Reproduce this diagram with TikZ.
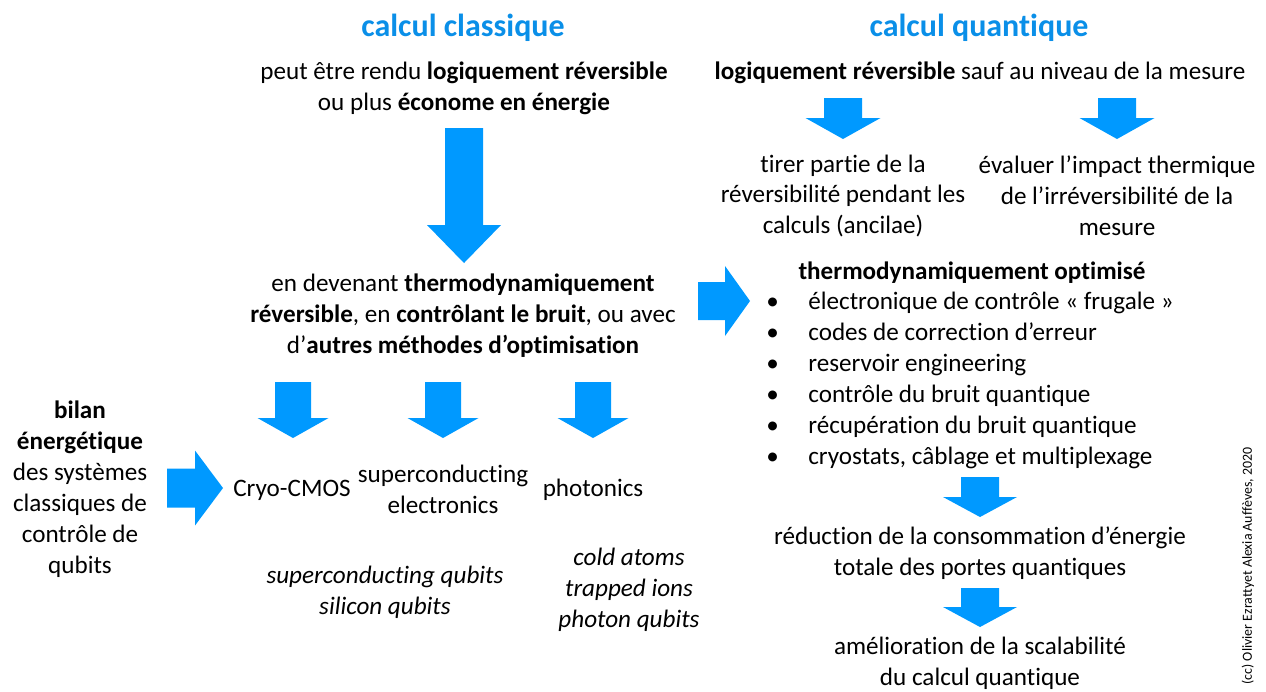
\documentclass[tikz,border=0pt]{standalone}
\usepackage{fontspec}
\setmainfont{Carlito}[RawFeature=-liga, RawFeature=-calt, RawFeature=-clig]
\usepackage{tikz}
\usetikzlibrary{positioning}
\definecolor{arrblue}{HTML}{0099FF}
\definecolor{titleblue}{HTML}{0A8FE8}

\tikzset{
  pics/downarr/.style n args={4}{code={
    \fill[arrblue] (-#1,0) -- (#1,0) -- (#1,#3) -- (#2,#3) -- (0,#4)
                   -- (-#2,#3) -- (-#1,#3) -- cycle;}},
  pics/rightarr/.style n args={4}{code={
    \fill[arrblue] (0,-#1) -- (#3,-#1) -- (#3,-#2) -- (#4,0)
                   -- (#3,#2) -- (#3,#1) -- (0,#1) -- cycle;}}
}

\begin{document}
\begin{tikzpicture}[x=0.02cm, y=-0.02cm,
    txt/.style={align=center, inner sep=0pt, font=\fontsize{14.3}{17.6}\selectfont},
    itxt/.style={txt, font=\fontsize{14.3}{17.6}\selectfont\itshape},
    title/.style={inner sep=0pt, text=titleblue, font=\fontsize{18.2}{22}\selectfont\bfseries},
    item/.style={anchor=west, inner sep=0pt, text height=9.8pt, text depth=3pt,
                 font=\fontsize{14.3}{17.6}\selectfont}
]
    \useasboundingbox (0,0) rectangle (1266,691);

    % titles
    \node[title] (tclass) at (463,28) {calcul classique};
    \node[title] (tquant) at (979,28) {calcul quantique};

    % classical side
    \node[txt] (rendu) at (464,88)
         {peut être rendu \textbf{logiquement réversible}\\ou plus \textbf{économe en énergie}};
    \pic (abig) at (464,128) {downarr={19}{37}{97}{135}};
    \node[txt] (devenant) at (463,316)
         {en devenant \textbf{thermodynamiquement}\\\textbf{réversible}, en \textbf{contrôlant le bruit}, ou avec\\d’\textbf{autres méthodes d’optimisation}};

    \pic (acmos) at (293,382) {downarr={18}{35.5}{36}{56}};
    \pic (asupra) at (443,382) {downarr={18}{35.5}{36}{56}};
    \pic (aphoto) at (593,382) {downarr={18}{35.5}{36}{56}};

    \node[txt] (bilan) at (80,489)
         {\textbf{bilan}\\\textbf{énergétique}\\des systèmes\\classiques de\\contrôle de\\qubits};
    \pic (abilan) at (167,488) {rightarr={19.5}{37.5}{28}{56}};

    \node[txt] (cmos) at (292,490) {Cryo-CMOS};
    \node[txt] (supra) at (443,489) {superconducting\\electronics};
    \node[txt] (photo) at (593,490) {photonics};

    \node[itxt] (qsupra) at (385,592) {superconducting qubits\\silicon qubits};
    \node[itxt] (qphoto) at (629,590) {cold atoms\\trapped ions\\photon qubits};

    % quantum side
    \node[txt] (mesure) at (980,73)
         {\textbf{logiquement réversible} sauf au niveau de la mesure};
    \pic (aanc) at (843,98) {downarr={19}{37.5}{20}{41}};
    \pic (aimp) at (1117,98) {downarr={19}{37.5}{20}{41}};
    \node[txt] (ancilae) at (843,196)
         {tirer partie de la\\réversibilité pendant les\\calculs (ancilae)};
    \node[txt] (impact) at (1117,196)
         {évaluer l’impact thermique\\de l’irréversibilité de la\\mesure};

    \pic (amid) at (698,301) {rightarr={19}{35}{27}{52}};

    \node[txt] (optim) at (972,273) {\textbf{thermodynamiquement optimisé}};
    \foreach \lbl [count=\i from 0] in {électronique de contrôle « frugale »,
        codes de correction d’erreur, reservoir engineering,
        contrôle du bruit quantique, récupération du bruit quantique,
        cryostats{,} câblage et multiplexage} {
      \node[item] (bul\i) at (766,304+31*\i) {•};
      \node[item] (item\i) at (808,304+31*\i) {\lbl};
    }

    \pic (ared) at (980,477) {downarr={19}{37}{20}{40}};
    \node[txt] (reduc) at (980,553)
         {réduction de la consommation d’énergie\\totale des portes quantiques};
    \pic (ascal) at (980,588) {downarr={19}{37}{19}{39}};
    \node[txt] (scala) at (980,663)
         {amélioration de la scalabilité\\du calcul quantique};

    % credit
    \node[rotate=90, inner sep=0pt, font=\fontsize{7.9}{9}\selectfont] (cc) at (1248,566)
         {(cc) Olivier Ezrattyet Alexia Auffèves, 2020};
\end{tikzpicture}
\end{document}
